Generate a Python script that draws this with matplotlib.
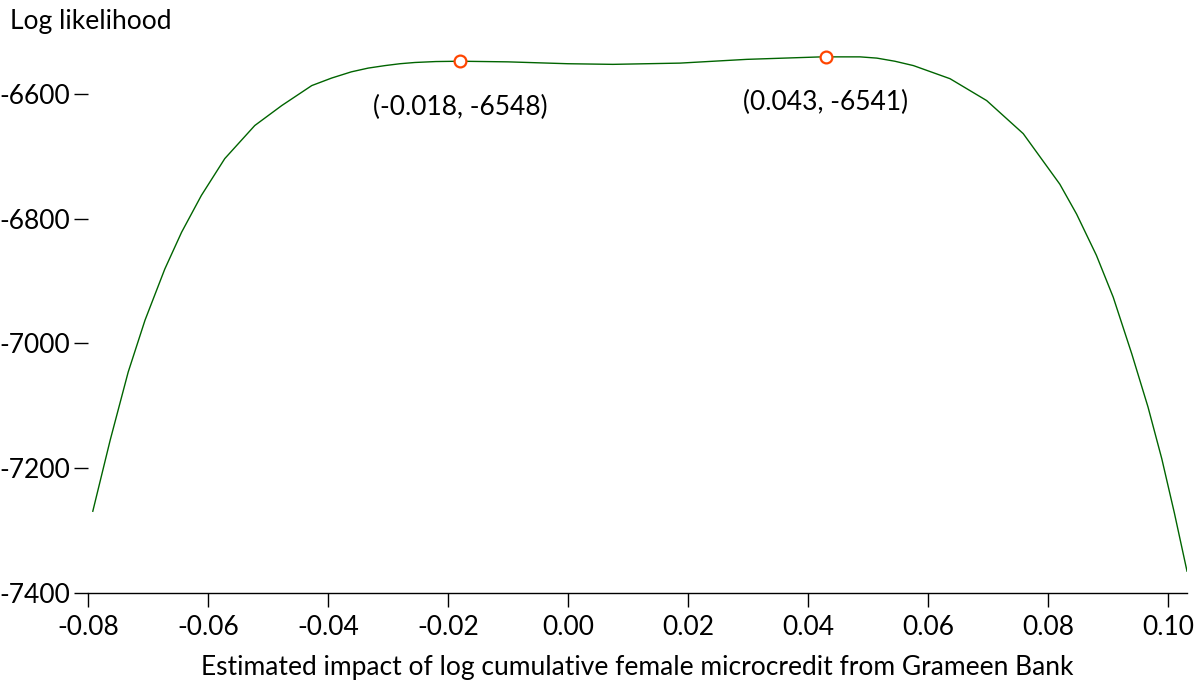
import numpy as np
import matplotlib.pyplot as plt

plt.rcParams['font.family'] = ['Lato', 'DejaVu Sans']
plt.rcParams['axes.unicode_minus'] = False

# curve
impact = [-0.0792, -0.0763, -0.0733, -0.0705, -0.0672, -0.0644, -0.0611,
          -0.0572, -0.0522, -0.0477, -0.0427, -0.0394, -0.0361, -0.0333,
          -0.0305, -0.0280, -0.0255, -0.022, -0.018, -0.010, 0.000, 0.0075,
          0.0187, 0.0298, 0.0423, 0.0487, 0.0515, 0.0545, 0.0576, 0.0637,
          0.0698, 0.0759, 0.082, 0.0848, 0.0881, 0.0909, 0.094, 0.0967,
          0.099, 0.1011, 0.1032]
loglik = [-7269, -7155, -7046, -6963, -6881, -6822, -6763,
          -6704, -6651, -6619, -6587, -6575, -6565, -6559,
          -6555, -6552, -6550, -6548.5, -6548, -6549, -6552, -6553,
          -6551, -6545, -6541, -6541, -6543, -6548, -6555, -6576,
          -6611, -6664, -6745, -6793, -6859, -6926, -7017, -7102,
          -7185, -7272, -7365]

# local maxima
peak_x = [-0.018, 0.043]
peak_y = [-6548, -6541]

xticks = [-0.08, -0.06, -0.04, -0.02, 0.00, 0.02, 0.04, 0.06, 0.08, 0.10]
yticks = [-7400, -7200, -7000, -6800, -6600]

fig = plt.figure(figsize=(11.95, 6.82), dpi=100)
ax = fig.add_axes([88/1195, 89/682, (1187-88)/1195, (593-50)/682])

ax.plot(impact, loglik, color='#006400', lw=1.0)
ax.plot(peak_x, peak_y, 'o', mfc='white', mec='#ff4500', mew=1.6, ms=8.5)

for px, py in zip(peak_x, peak_y):
    ax.annotate('(%.3f, %d)' % (px, py), (px, py), xytext=(0, -24),
                textcoords='offset points', ha='center', va='top', fontsize=19)

ax.set_xlim(-0.08, 0.1032)
ax.set_ylim(-7400, -6530)
ax.set_xticks(xticks)
ax.set_xticklabels(['%.2f' % v for v in xticks])
ax.set_yticks(yticks)

for s in ['top', 'right', 'left']:
    ax.spines[s].set_visible(False)
ax.spines['bottom'].set_linewidth(1.0)
ax.tick_params(axis='both', direction='out', length=10, width=1.0, labelsize=19)
ax.tick_params(axis='y', pad=3)
ax.tick_params(axis='x', pad=6)

ax.set_xlabel('Estimated impact of log cumulative female microcredit from Grameen Bank',
              fontsize=19, labelpad=11)
fig.text(10/1195, 1 - 22/682, 'Log likelihood', fontsize=19, va='center', ha='left')

fig.savefig('out.png', dpi=100)
